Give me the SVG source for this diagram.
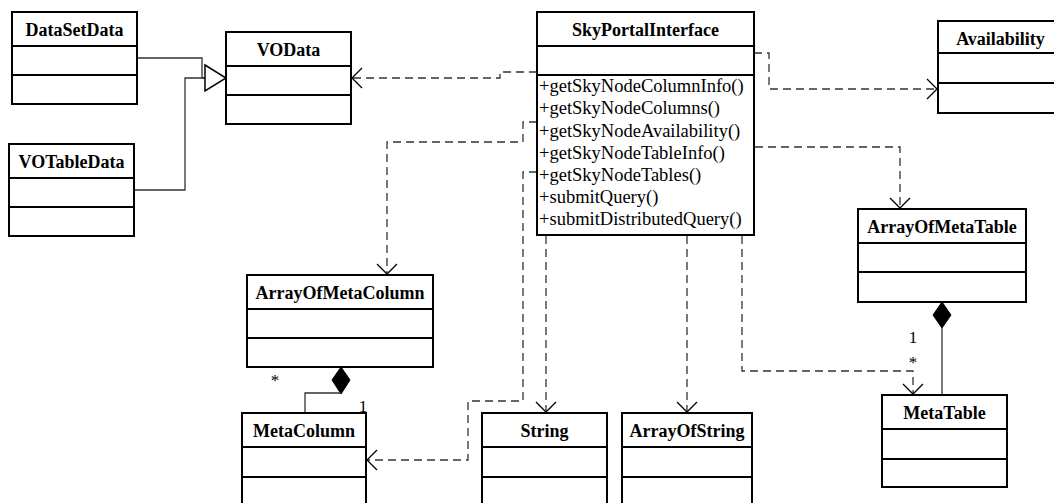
<svg xmlns="http://www.w3.org/2000/svg" width="1054" height="503" viewBox="0 0 1054 503">
<style>
.box{fill:#fff;stroke:#000;stroke-width:2}
.div{stroke:#000;stroke-width:2}
.t{font-family:"Liberation Serif","Times New Roman",serif;font-weight:bold;font-size:18px;text-anchor:middle;fill:#000}
.m{font-family:"Liberation Serif","Times New Roman",serif;font-size:18.5px;fill:#000}
.lbl{font-family:"Liberation Serif","Times New Roman",serif;font-size:17px;text-anchor:middle;fill:#000}
.dep{fill:none;stroke:#333;stroke-width:1.3;stroke-dasharray:8,5}
.sol{fill:none;stroke:#333;stroke-width:1.3}
</style>
<defs>
<marker id="open" markerUnits="userSpaceOnUse" viewBox="0 0 12 22" refX="11" refY="11" markerWidth="12" markerHeight="22" orient="auto">
<path d="M1,1 L11,11 L1,21" fill="none" stroke="#000" stroke-width="1.3" stroke-dasharray="none"/>
</marker>
</defs>
<g id="connectors">
<polyline class="sol" points="137,58 202,58 202,78 205,78"/>
<polyline class="sol" points="134,190 185,190 185,78 205,78"/>
<polygon points="205,65 226,78 205,91" fill="#fff" stroke="#000" stroke-width="1.5"/>
<path class="dep" d="M537,72 H500 V78 H352" marker-end="url(#open)"/>
<path class="dep" d="M754,53 H769 V89 H937" marker-end="url(#open)"/>
<path class="dep" d="M537,122 H523 V142 H387 V274" marker-end="url(#open)"/>
<path class="dep" d="M537,172 H523 V401 H468 V460 H367" marker-end="url(#open)"/>
<path class="dep" d="M546,236 V412" marker-end="url(#open)"/>
<path class="dep" d="M687,236 V412" marker-end="url(#open)"/>
<path class="dep" d="M742,236 V371 H913 V394" marker-end="url(#open)"/>
<path class="dep" d="M755,147 H900 V208" marker-end="url(#open)"/>
<polygon points="942,302 951,315 942,328 933,315" fill="#000" stroke="#000"/>
<line class="sol" x1="942" y1="328" x2="942" y2="395"/>
<polygon points="341,367 350,380 341,394 332,380" fill="#000" stroke="#000"/>
<polyline class="sol" points="341,393 305,393 305,413"/>
<text class="lbl" x="275" y="386">*</text>
<text class="lbl" x="363" y="412">1</text>
<text class="lbl" x="913" y="343">1</text>
<text class="lbl" x="913" y="368">*</text>
</g>
<g id="DataSetData">
<rect class="box" x="12" y="12" width="125" height="92"/>
<line class="div" x1="12" y1="46" x2="137" y2="46"/>
<line class="div" x1="12" y1="75" x2="137" y2="75"/>
<text class="t" x="74.5" y="36">DataSetData</text>
</g>
<g id="VOData">
<rect class="box" x="226" y="32" width="125" height="92"/>
<line class="div" x1="226" y1="66" x2="351" y2="66"/>
<line class="div" x1="226" y1="95" x2="351" y2="95"/>
<text class="t" x="288.5" y="56">VOData</text>
</g>
<g id="VOTableData">
<rect class="box" x="9" y="144" width="125" height="92"/>
<line class="div" x1="9" y1="178" x2="134" y2="178"/>
<line class="div" x1="9" y1="207" x2="134" y2="207"/>
<text class="t" x="71.5" y="168">VOTableData</text>
</g>
<g id="SkyPortalInterface">
<rect class="box" x="537" y="12" width="217" height="223"/>
<line class="div" x1="537" y1="46" x2="754" y2="46"/>
<line class="div" x1="537" y1="75" x2="754" y2="75"/>
<text class="t" x="645.5" y="36">SkyPortalInterface</text>
<text class="m" x="539" y="92">+getSkyNodeColumnInfo()</text>
<text class="m" x="539" y="114">+getSkyNodeColumns()</text>
<text class="m" x="539" y="136.5">+getSkyNodeAvailability()</text>
<text class="m" x="539" y="158.7">+getSkyNodeTableInfo()</text>
<text class="m" x="539" y="181">+getSkyNodeTables()</text>
<text class="m" x="539" y="203">+submitQuery()</text>
<text class="m" x="539" y="225">+submitDistributedQuery()</text>
</g>
<g id="Availability">
<rect class="box" x="938" y="21" width="125" height="92"/>
<line class="div" x1="938" y1="53" x2="1063" y2="53"/>
<line class="div" x1="938" y1="83" x2="1063" y2="83"/>
<text class="t" x="1000.5" y="45">Availability</text>
</g>
<g id="ArrayOfMetaTable">
<rect class="box" x="858" y="209" width="168" height="93"/>
<line class="div" x1="858" y1="243" x2="1026" y2="243"/>
<line class="div" x1="858" y1="272" x2="1026" y2="272"/>
<text class="t" x="942" y="233">ArrayOfMetaTable</text>
</g>
<g id="ArrayOfMetaColumn">
<rect class="box" x="247" y="275" width="186" height="92"/>
<line class="div" x1="247" y1="309" x2="433" y2="309"/>
<line class="div" x1="247" y1="338" x2="433" y2="338"/>
<text class="t" x="340" y="299">ArrayOfMetaColumn</text>
</g>
<g id="MetaColumn">
<rect class="box" x="242" y="413" width="124" height="100"/>
<line class="div" x1="242" y1="447" x2="366" y2="447"/>
<line class="div" x1="242" y1="477" x2="366" y2="477"/>
<text class="t" x="304" y="437">MetaColumn</text>
</g>
<g id="String">
<rect class="box" x="482" y="413" width="125" height="100"/>
<line class="div" x1="482" y1="447" x2="607" y2="447"/>
<line class="div" x1="482" y1="477" x2="607" y2="477"/>
<text class="t" x="544.5" y="437">String</text>
</g>
<g id="ArrayOfString">
<rect class="box" x="622" y="413" width="130" height="100"/>
<line class="div" x1="622" y1="447" x2="752" y2="447"/>
<line class="div" x1="622" y1="477" x2="752" y2="477"/>
<text class="t" x="687" y="437">ArrayOfString</text>
</g>
<g id="MetaTable">
<rect class="box" x="882" y="395" width="125" height="92"/>
<line class="div" x1="882" y1="429" x2="1007" y2="429"/>
<line class="div" x1="882" y1="459" x2="1007" y2="459"/>
<text class="t" x="944.5" y="419">MetaTable</text>
</g>
</svg>
